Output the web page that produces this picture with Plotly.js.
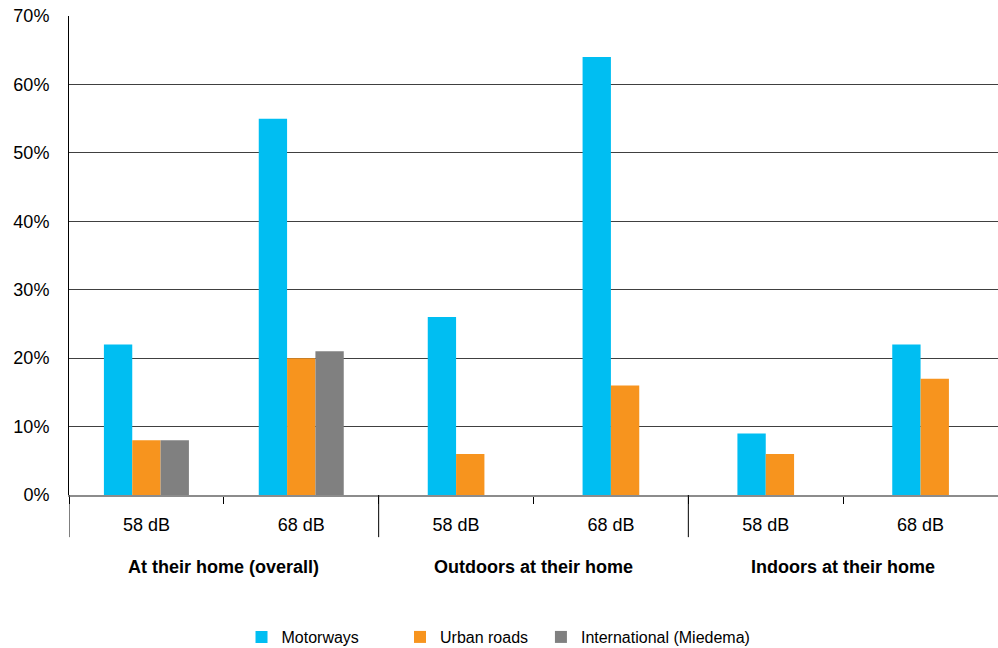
<!DOCTYPE html>
<html><head><meta charset="utf-8">
<script src="https://cdn.plot.ly/plotly-3.0.1.min.js"></script>
<style>html,body{margin:0;padding:0;background:#fff}#chart{width:998px;height:648px}</style>
</head><body><div id="chart"></div>
<script>
const groups = ["At their home (overall)", "Outdoors at their home", "Indoors at their home"];
const levels = ["58 dB", "68 dB"];
const motorways = [22, 55, 26, 64, 9, 22];
const urbanRoads = [8, 20, 6, 16, 6, 17];
const international = [8, 21, null, null, null, null];
const seriesNames = ["Motorways", "Urban roads", "International (Miedema)"];
const seriesColors = ["#00BEF2", "#F7941E", "#808080"];
const yTickVals = [0, 10, 20, 30, 40, 50, 60, 70];

const FONT = "Liberation Sans, Arial, Helvetica, sans-serif";
const cats = [];
const catText = [];
groups.forEach(g => levels.forEach(l => { cats.push(g + " | " + l); catText.push(l); }));

const series = [motorways, urbanRoads, international];
const barW = 0.183;
// centre the bars that are present in each category
const offsets = series.map(() => []);
cats.forEach((c, i) => {
  const present = series.map(s => s[i] !== null && s[i] !== undefined);
  const n = present.filter(Boolean).length;
  let k = 0;
  series.forEach((s, j) => {
    if (present[j]) { offsets[j][i] = (k - n / 2) * barW; k++; }
    else offsets[j][i] = 0;
  });
});

const legendIds = ["legend", "legend2", "legend3"];
const traces = series.map((s, j) => ({
  type: "bar", x: cats, y: s, name: seriesNames[j],
  marker: {color: seriesColors[j], line: {width: 0}},
  width: barW, offset: offsets[j], legend: legendIds[j],
  hoverinfo: "y+name"
}));

const nPer = levels.length;
const shapes = [];
for (let g = 0; g < groups.length; g++) {
  shapes.push({type: "line", xref: "x", yref: "paper", x0: g * nPer - 0.5, x1: g * nPer - 0.5,
    y0: 0, y1: -0.088, line: {color: "#000", width: 1}});
}
const annotations = groups.map((g, gi) => ({
  xref: "x", yref: "paper", x: gi * nPer + (nPer - 1) / 2, y: -0.151, yanchor: "middle",
  text: "<b>" + g + "</b>", showarrow: false, font: {family: FONT, size: 18, color: "#000"}
}));

const legendBase = {orientation: "h", yanchor: "middle", xanchor: "left", y: -0.2965,
  yref: "paper", xref: "paper",
  font: {family: FONT, size: 16, color: "#000"}, bgcolor: "rgba(0,0,0,0)"};
const layout = {
  width: 998, height: 648,
  margin: {l: 69, r: 0, t: 16, b: 153, autoexpand: false},
  paper_bgcolor: "#fff", plot_bgcolor: "#fff",
  barmode: "overlay",
  showlegend: true,
  font: {family: FONT, size: 18, color: "#000"},
  xaxis: {type: "category", categoryorder: "array", categoryarray: cats,
    tickmode: "array", tickvals: cats, ticktext: catText, tickson: "boundaries",
    ticks: "outside", ticklen: 7, tickwidth: 1, tickcolor: "#000",
    ticklabelstandoff: 12,
    showgrid: false, showline: true, linecolor: "#8c8c8c", linewidth: 2,
    range: [-0.5, cats.length - 0.5], fixedrange: true, automargin: false,
    tickfont: {family: FONT, size: 18, color: "#000"}},
  yaxis: {range: [0, 70], tickmode: "array", tickvals: yTickVals,
    ticktext: yTickVals.map(v => v + "%"), automargin: false,
    showgrid: true, gridcolor: "#404040", gridwidth: 1, zeroline: false,
    showline: true, linecolor: "#000", linewidth: 1,
    ticks: "", ticklabelstandoff: 15,
    tickfont: {family: FONT, size: 18, color: "#000"}},
  shapes: shapes,
  annotations: annotations,
  legend: Object.assign({}, legendBase, {x: 0.1857}),
  legend2: Object.assign({}, legendBase, {x: 0.3563}),
  legend3: Object.assign({}, legendBase, {x: 0.508})
};
Plotly.newPlot("chart", traces, layout, {displayModeBar: false, responsive: false});
</script></body></html>
